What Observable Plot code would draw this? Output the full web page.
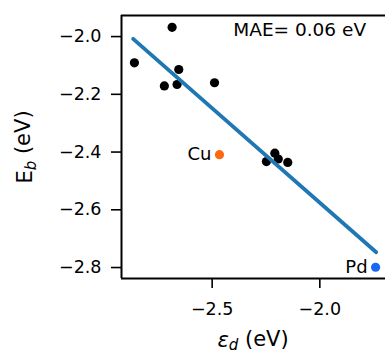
<!DOCTYPE html>
<html>
<head>
<meta charset="utf-8">
<script src="https://cdn.jsdelivr.net/npm/d3@7"></script>
<script src="https://cdn.jsdelivr.net/npm/@observablehq/plot@0.6"></script>
<style>
  html, body { margin: 0; padding: 0; background: white; }
  #chart svg { display: block; }
</style>
</head>
<body>
<div id="chart"></div>
<script>
// Black points: d-band centre vs binding energy
const epsD = [-2.861, -2.686, -2.655, -2.722, -2.663, -2.489, -2.248, -2.209, -2.193, -2.149];
const eB   = [-2.091, -1.968, -2.114, -2.171, -2.166, -2.160, -2.433, -2.404, -2.424, -2.436];
// Highlighted points
const hlNames = ["Cu", "Pd"];
const hlEps   = [-2.466, -1.741];
const hlEb    = [-2.409, -2.799];
const hlColors = ["#ff6a10", "#1a66f5"];
// Fit line end points
const fitX = [-2.867, -1.738];
const fitY = [-2.008, -2.747];
// Axis ticks and domains
const xTicks = [-2.5, -2.0];
const yTicks = [-2.0, -2.2, -2.4, -2.6, -2.8];
const xDomain = [-2.921, -1.695];
const yDomain = [-2.838, -1.927];
const maeText = "MAE= 0.06 eV";

const pts = epsD.map((x, i) => ({x, y: eB[i]}));
const hl = hlNames.map((n, i) => ({name: n, x: hlEps[i], y: hlEb[i], c: hlColors[i]}));
const fit = fitX.map((x, i) => ({x, y: fitY[i]}));

const fmt = d3.format(".1f");

const svg = Plot.plot({
  width: 385,
  height: 355,
  marginLeft: 121,
  marginRight: 0,
  marginTop: 15,
  marginBottom: 77,
  x: {domain: xDomain},
  y: {domain: yDomain},
  style: {fontFamily: "DejaVu Sans", fontSize: "17.5px", color: "black", background: "white"},
  marks: [
    Plot.axisX({ticks: xTicks, tickFormat: fmt, tickSize: 10, tickPadding: 14, strokeWidth: 1.6, label: null, fontSize: 17.5}),
    Plot.axisY({ticks: yTicks, tickFormat: fmt, tickSize: 10, tickPadding: 10, strokeWidth: 1.6, label: null, fontSize: 17.5}),
    Plot.ruleX([xDomain[0]], {stroke: "black", strokeWidth: 2}),
    Plot.ruleY([yDomain[0], yDomain[1]], {stroke: "black", strokeWidth: 2}),
    Plot.dot(pts, {x: "x", y: "y", r: 4.6, fill: "black", stroke: "none"}),
    Plot.dot(hl, {x: "x", y: "y", r: 4.6, fill: "c", stroke: "none"}),
    Plot.text(hl, {x: "x", y: "y", text: "name", textAnchor: "end", dx: -8, fontSize: 18, fill: "black"}),
    Plot.line(fit, {x: "x", y: "y", stroke: "#1f77b4", strokeWidth: 3.8}),
    Plot.text([maeText], {x: -2.402, y: -1.9775, text: d => d, textAnchor: "start", fontSize: 18.5, fill: "black"})
  ]
});

const s = d3.select(svg);
// y axis label: E_b (eV)
const yl = s.append("text")
  .attr("transform", "translate(32,147) rotate(-90)")
  .attr("text-anchor", "middle")
  .attr("font-size", 21)
  .attr("fill", "black");
yl.append("tspan").text("E");
yl.append("tspan").attr("font-style", "italic").attr("font-size", 15).attr("dy", "0.28em").text("b");
yl.append("tspan").attr("dy", "-0.28em").text(" (eV)");
// x axis label: ε_d (eV)
const xl = s.append("text")
  .attr("x", 253).attr("y", 347)
  .attr("text-anchor", "middle")
  .attr("font-size", 21)
  .attr("fill", "black");
xl.append("tspan").attr("font-style", "italic").text("ε");
xl.append("tspan").attr("font-style", "italic").attr("font-size", 15).attr("dy", "0.22em").text("d");
xl.append("tspan").attr("dy", "-0.22em").text(" (eV)");

document.getElementById("chart").appendChild(svg);
</script>
</body>
</html>
